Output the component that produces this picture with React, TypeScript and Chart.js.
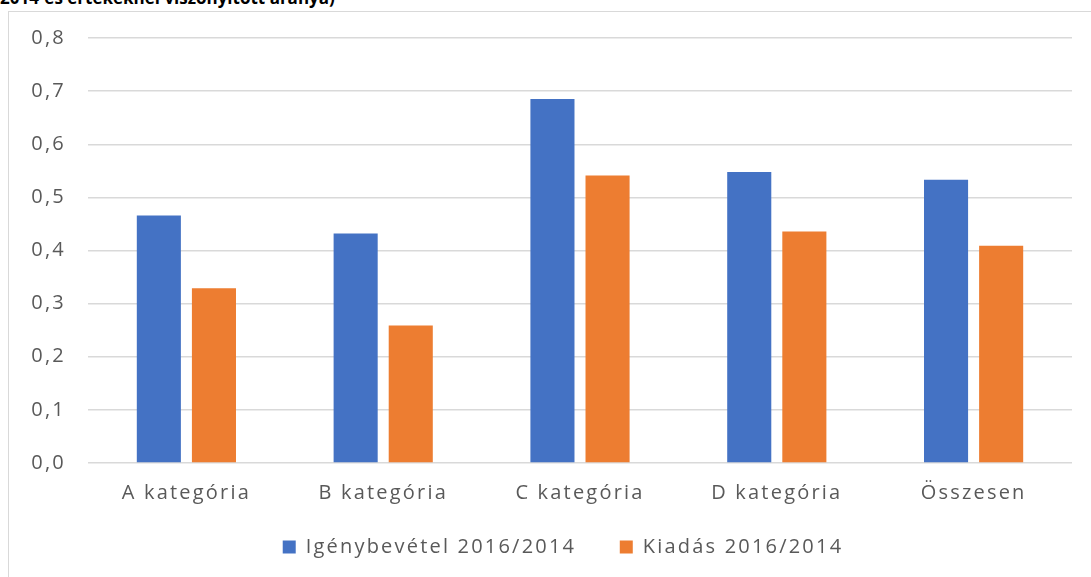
import React, { useEffect, useRef } from "react";
import { Chart, registerables } from "chart.js";

Chart.register(...registerables);

const categories = ["A kategória", "B kategória", "C kategória", "D kategória", "Összesen"];
const igenybevetel = [0.466, 0.432, 0.685, 0.548, 0.533];
const kiadas = [0.329, 0.259, 0.541, 0.436, 0.409];
const seriesNames = ["Igénybevétel 2016/2014", "Kiadás 2016/2014"];
const titleText = "2014-es értékeknél viszonyított aránya)";

const FONT = "'Open Sans', 'Noto Sans', sans-serif";
const SPACING = "2.2px";
const FS = 20;
const LEGEND_SHIFT = 13;

const spacingPlugin = {
  id: "letterSpacing",
  beforeInit(chart: any) {
    chart.ctx.letterSpacing = SPACING;
  },
  beforeLayout(chart: any) {
    chart.ctx.letterSpacing = SPACING;
  },
  afterLayout(chart: any) {
    if (chart.legend) {
      chart.legend.left += LEGEND_SHIFT;
      chart.legend.right += LEGEND_SHIFT;
    }
  },
  beforeDraw(chart: any) {
    chart.ctx.letterSpacing = SPACING;
  },
};

export default function App() {
  const ref = useRef<HTMLCanvasElement | null>(null);

  useEffect(() => {
    if (!ref.current) return;
    const defaultGen = (Chart.defaults as any).plugins.legend.labels.generateLabels;
    const chart = new Chart(ref.current, {
      type: "bar",
      data: {
        labels: categories,
        datasets: [
          {
            label: seriesNames[0],
            data: igenybevetel,
            backgroundColor: "#4472C4",
            categoryPercentage: 0.56,
            barPercentage: 0.8,
          },
          {
            label: seriesNames[1],
            data: kiadas,
            backgroundColor: "#ED7D31",
            categoryPercentage: 0.56,
            barPercentage: 0.8,
          },
        ],
      },
      plugins: [spacingPlugin],
      options: {
        animation: false,
        responsive: false,
        maintainAspectRatio: false,
        layout: { padding: { left: 28, right: 19, top: 38, bottom: 10 } },
        plugins: {
          tooltip: { enabled: false },
          legend: {
            position: "bottom",
            labels: {
              boxWidth: 13,
              boxHeight: 13,
              padding: 14,
              color: "#595959",
              font: { family: FONT, size: FS },
              generateLabels: (c: any) => {
                const items = defaultGen(c);
                return items.map((it: any, i: number) =>
                  i < items.length - 1 ? { ...it, text: it.text + "    " } : it
                );
              },
            },
          },
        },
        scales: {
          x: {
            grid: { display: false, drawTicks: false },
            border: { display: false },
            ticks: {
              color: "#595959",
              font: { family: FONT, size: FS },
              padding: 18,
              maxRotation: 0,
            },
          },
          y: {
            min: 0,
            max: 0.8,
            afterFit: (s: any) => {
              s.width = 60;
            },
            grid: { color: "#d9d9d9", lineWidth: 1.5, drawTicks: false },
            border: { display: false },
            ticks: {
              stepSize: 0.1,
              color: "#595959",
              font: { family: FONT, size: FS },
              padding: 22,
              callback: (v: any) => Number(v).toFixed(1).replace(".", ","),
            },
          },
        },
      },
    });
    return () => chart.destroy();
  }, []);

  return (
    <div style={{ position: "fixed", left: 0, top: 0, width: 1091, height: 577, overflow: "hidden", background: "#fff" }}>
      <div
        style={{
          position: "absolute",
          left: 0,
          top: -14,
          fontFamily: FONT,
          fontWeight: 700,
          fontSize: 17,
          color: "#000",
          whiteSpace: "nowrap",
        }}
      >
        {titleText}
      </div>
      <div
        style={{
          position: "absolute",
          left: 8,
          top: 11,
          width: 1200,
          height: 700,
          border: "1.5px solid #d9d9d9",
        }}
      />
      <canvas ref={ref} width={1091} height={577} style={{ position: "absolute", left: 0, top: 0 }} />
    </div>
  );
}
